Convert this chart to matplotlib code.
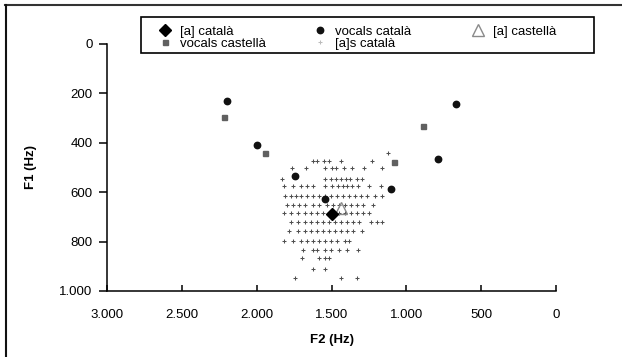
import matplotlib.pyplot as plt
from matplotlib.ticker import FuncFormatter
from matplotlib.patches import Rectangle

plt.rcParams['font.family'] = ['Liberation Sans', 'DejaVu Sans']

# vowel chart data: F2 (x), F1 (y) in Hz
a_cat_f2 = [1500]
a_cat_f1 = [690]

voc_cat_f2 = [2195, 1995, 1745, 1545, 1105, 790, 670]
voc_cat_f1 = [230, 410, 535, 628, 586, 467, 244]

voc_cast_f2 = [2220, 1945, 1080, 890]
voc_cast_f1 = [297, 440, 479, 332]

a_cast_f2 = [1435]
a_cast_f1 = [665]

# [a]s català, read row by row (F1 of the row, F2 of each token)
as_rows_f1 = [440, 475, 503, 545, 577, 614, 651, 685, 722, 758, 799, 834, 866, 912, 947]
as_rows_f2 = [
    [1125],
    [1625, 1600, 1550, 1520, 1440, 1230],
    [1765, 1670, 1545, 1500, 1470, 1415, 1365, 1285, 1160],
    [1830, 1545, 1505, 1470, 1440, 1405, 1375, 1330, 1295],
    [1815, 1755, 1705, 1665, 1625, 1545, 1495, 1455, 1425, 1395, 1360, 1320, 1250, 1170],
    [1810, 1770, 1735, 1705, 1665, 1625, 1585, 1545, 1505, 1465, 1425, 1385, 1345, 1305, 1265, 1210, 1160],
    [1800, 1755, 1715, 1675, 1625, 1585, 1530, 1490, 1450, 1410, 1370, 1330, 1290, 1225],
    [1815, 1770, 1725, 1675, 1635, 1595, 1555, 1490, 1450, 1410, 1370, 1330, 1290, 1250],
    [1770, 1725, 1675, 1635, 1595, 1555, 1515, 1475, 1435, 1395, 1355, 1315, 1235, 1195, 1160],
    [1785, 1725, 1675, 1635, 1595, 1555, 1515, 1475, 1435, 1395, 1355, 1295],
    [1815, 1755, 1705, 1665, 1625, 1585, 1545, 1505, 1465, 1410, 1385],
    [1690, 1625, 1595, 1545, 1505, 1450, 1395, 1320],
    [1700, 1585, 1545, 1515],
    [1625, 1545],
    [1745, 1435, 1330],
]

as_f2 = []
as_f1 = []
for f1, row in zip(as_rows_f1, as_rows_f2):
    for f2 in row:
        as_f2.append(f2)
        as_f1.append(f1)

xticks = [3000, 2500, 2000, 1500, 1000, 500, 0]
yticks = [0, 200, 400, 600, 800, 1000]

W, H = 622, 357
fig = plt.figure(figsize=(W / 100, H / 100), dpi=100)
ax = fig.add_axes([0.172, 0.185, 0.722, 0.692])

ax.plot(as_f2, as_f1, linestyle='none', marker='+', markersize=2.3, markeredgewidth=0.75,
        color='#505050', label='[a]s català')
ax.plot(a_cast_f2, a_cast_f1, linestyle='none', marker='^', markersize=8, markerfacecolor='none',
        markeredgecolor='#8a8a8a', markeredgewidth=1.0, label='[a] castellà', zorder=4)
ax.plot(voc_cast_f2, voc_cast_f1, linestyle='none', marker='s', markersize=3.6,
        color='#606060', label='vocals castellà')
ax.plot(voc_cat_f2, voc_cat_f1, linestyle='none', marker='o', markersize=4.6,
        color='#111111', label='vocals català')
ax.plot(a_cat_f2, a_cat_f1, linestyle='none', marker='D', markersize=6.5,
        color='#000000', label='[a] català', zorder=5)

ax.set_xlim(3000, 0)
ax.set_ylim(1000, 0)
ax.set_xticks(xticks)
ax.set_yticks(yticks)
fmt = FuncFormatter(lambda v, p: '{:,}'.format(int(v)).replace(',', '.'))
ax.xaxis.set_major_formatter(fmt)
ax.yaxis.set_major_formatter(fmt)

for s in ['top', 'right']:
    ax.spines[s].set_visible(False)
for s in ['left', 'bottom']:
    ax.spines[s].set_linewidth(1.1)
ax.tick_params(axis='x', direction='in', length=4.5, width=1.1, pad=13, labelsize=9.5)
ax.tick_params(axis='y', direction='out', length=5.5, width=1.1, pad=5, labelsize=9.5)

ax.set_xlabel('F2 (Hz)', fontsize=9.5, fontweight='bold', labelpad=9)
ax.set_ylabel('F1 (Hz)', fontsize=9.5, fontweight='bold', labelpad=16)

# legend: three fixed columns inside one box
h, l = ax.get_legend_handles_labels()
cols = [['[a] català', 'vocals castellà'], ['vocals català', '[a]s català'], ['[a] castellà']]
col_marker_x = [165, 320, 478]
hl = 13.2  # handle length in px at 9.5 pt
for names, mx in zip(cols, col_marker_x):
    leg = fig.legend([h[l.index(n)] for n in names], names, loc='upper left',
                     bbox_to_anchor=((mx - hl / 2) / W, 1 - 25.5 / H), ncol=1, fontsize=9.5,
                     frameon=False, borderpad=0, borderaxespad=0, labelspacing=0,
                     handlelength=1.0, handletextpad=0.65)
    for lh, n in zip(leg.legend_handles, names):
        if n == '[a]s català':
            lh.set_color('#bbbbbb')
fig.add_artist(Rectangle((141 / W, 1 - 53 / H), 453 / W, 36 / H, transform=fig.transFigure,
                         fill=False, edgecolor='black', linewidth=1.2))

# figure frame: top and left edges
fig.add_artist(plt.Line2D([5 / W, 1], [1 - 5 / H, 1 - 5 / H], color='#333333', linewidth=1.5,
                          transform=fig.transFigure))
fig.add_artist(plt.Line2D([6 / W, 6 / W], [0, 1 - 5 / H], color='#111111', linewidth=1.5,
                          transform=fig.transFigure))

fig.savefig('out.png', dpi=100)
